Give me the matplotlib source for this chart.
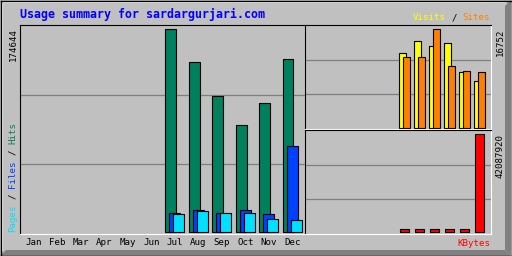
import numpy as np
from matplotlib import pyplot as plt
from matplotlib.patches import Polygon

months = ['Jan', 'Feb', 'Mar', 'Apr', 'May', 'Jun',
          'Jul', 'Aug', 'Sep', 'Oct', 'Nov', 'Dec']
hits = [0, 0, 0, 0, 0, 0, 174644, 146300, 117000, 92050, 110980, 148840]
files = [0, 0, 0, 0, 0, 0, 16600, 19200, 16600, 19200, 15700, 74250]
pages = [0, 0, 0, 0, 0, 0, 15700, 18300, 16600, 16600, 11400, 10600]
visits = [0, 0, 0, 0, 0, 0, 12680, 14710, 13870, 14380, 9450, 7930]
sites = [0, 0, 0, 0, 0, 0, 12000, 12000, 16752, 10470, 9620, 9450]
kbytes = [0, 0, 0, 0, 0, 0, 1290000, 1280000, 1300000, 1270000, 1260000, 42087920]

GREY = '#c0c0c0'
DKGREY = '#808080'
MONO = 'DejaVu Sans Mono'
SMALL = 6.6
CW = 0.602 * SMALL * 100 / 72  # char advance in px

W, H = 512, 256
fig = plt.figure(figsize=(W / 100, H / 100), dpi=100, facecolor=GREY)


def px_axes(x0, y0, x1, y1, z=1):
    return fig.add_axes([x0 / W, 1 - y1 / H, (x1 - x0) / W, (y1 - y0) / H], zorder=z)


# background / frame in pixel coordinates
bg = px_axes(0, 0, W, H, z=0)
bg.set_xlim(0, W)
bg.set_ylim(H, 0)
bg.axis('off')
bg.add_patch(Polygon([(505, 6), (511, 0), (511, 256), (505, 250)], closed=True, fc=DKGREY, ec='none'))
bg.add_patch(Polygon([(0, 256), (6, 250), (505, 250), (511, 256)], closed=True, fc=DKGREY, ec='none'))
bg.plot([1.5, 1.5], [1, 250], color='white', lw=0.8)
bg.plot([1, 505], [1.5, 1.5], color='white', lw=0.8)
bg.plot([0.5, 511.5, 511.5, 0.5, 0.5], [0.5, 0.5, 255.5, 255.5, 0.5], color='black', lw=1.0)


def segments(ax, parts, x, y, rot):
    # monospace pieces laid out by char index
    pos = 0
    for txt, col in parts:
        if rot:
            ax.text(x, y - pos * CW, txt, color=col, fontsize=SMALL, family=MONO,
                    rotation=90, rotation_mode='anchor', ha='left', va='baseline')
        else:
            ax.text(x + pos * CW, y, txt, color=col, fontsize=SMALL, family=MONO,
                    ha='left', va='baseline')
        pos += len(txt) + 1


def panel(ax, vmax, below, above, span, xw):
    s = vmax / span
    ax.set_ylim(-below * s, vmax + above * s)
    ax.set_xlim(0, xw)
    ax.set_facecolor(GREY)
    for side in ('left', 'top'):
        ax.spines[side].set_color('black')
    for side in ('right', 'bottom'):
        ax.spines[side].set_color('white')
    for sp in ax.spines.values():
        sp.set_linewidth(0.8)
    for f in (1 / 3, 2 / 3):
        ax.plot([0, 1], [f, f], transform=ax.transAxes, color=DKGREY, lw=0.9, zorder=0)
    ax.set_yticks([])
    ax.tick_params(length=0)


def bars(ax, vals, off, width, color):
    idx = np.array([i for i, v in enumerate(vals) if v > 0])
    hv = np.array([vals[i] for i in idx])
    ax.bar(idx + off, hv, width=width, align='edge', color=color,
           edgecolor='black', linewidth=0.8, zorder=2)


# main panel: hits / files / pages
step = 23.5
ax = px_axes(20, 25, 305, 234)
panel(ax, max(hits), 1.7, 4.3, 203, 285 / step)
bars(ax, hits, 4 / step, 11 / step, '#00805c')
bars(ax, files, 8 / step, 11 / step, '#0040ff')
bars(ax, pages, 12 / step, 11 / step, '#00e0ff')
ax.set_xticks(np.arange(12) + 14 / step)
ax.set_xticklabels(months, fontsize=SMALL, family=MONO)
ax.tick_params(axis='x', pad=2.6)

# visits / sites
step2 = 15
ax2 = px_axes(305, 25, 491, 129)
panel(ax2, max(sites), 1.3, 4.0, 98.7, 186 / step2)
bars(ax2, visits, 4 / step2, 7 / step2, '#ffff00')
bars(ax2, sites, 8 / step2, 7 / step2, '#ff8000')
ax2.set_xticks([])

# kbytes
ax3 = px_axes(305, 130, 491, 234)
panel(ax3, max(kbytes), 1.7, 4.0, 98.3, 186 / step2)
bars(ax3, kbytes, 5 / step2, 9 / step2, '#ff0000')
ax3.set_xticks([])

# labels
bg.text(20, 18, 'Usage summary for sardargurjari.com', color='#0000ff',
        fontsize=8.4, family=MONO, fontweight='bold', ha='left', va='baseline')
segments(bg, [('Visits', '#ffff00'), ('/', 'black'), ('Sites', '#ff8000')],
         490 - 14 * CW, 20.5, False)
segments(bg, [('Pages', '#00e0ff'), ('/', 'black'), ('Files', '#0040ff'),
              ('/', 'black'), ('Hits', '#00805c')], 15.5, 232, True)
bg.text(490, 246, 'KBytes', color='#ff0000', fontsize=SMALL, family=MONO,
        ha='right', va='baseline')

for xc, yt, val in ((13, 28, max(hits)), (500, 28, max(sites)), (500, 134, max(kbytes))):
    bg.text(xc, yt, str(val), color='black', fontsize=SMALL, family=MONO,
            rotation=90, rotation_mode='anchor', ha='right', va='center')

fig.savefig('out.png', dpi=100, facecolor=GREY)
